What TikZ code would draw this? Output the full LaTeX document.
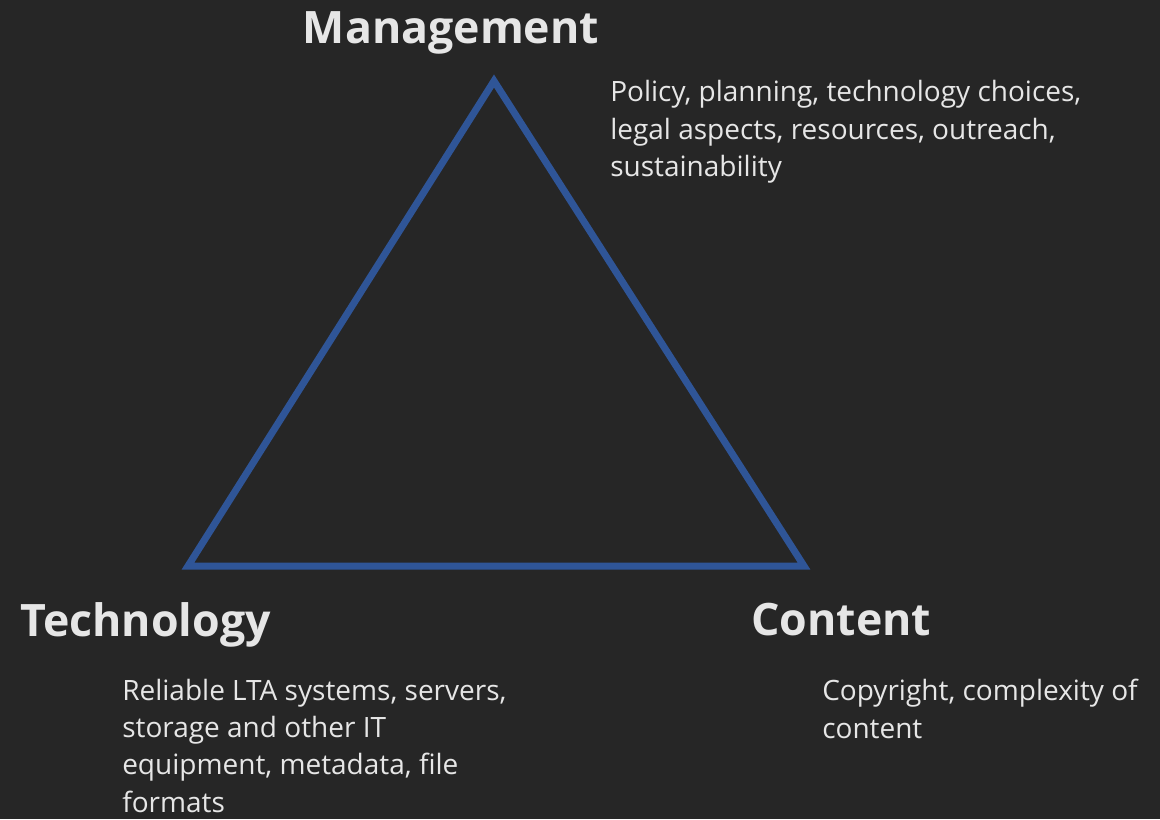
\documentclass[tikz,border=0pt]{standalone}
\usepackage{fontspec}
\setmainfont{Open Sans}
\definecolor{bg}{HTML}{262626}
\definecolor{tri}{HTML}{2F5597}
\definecolor{txt}{HTML}{E6E6E6}
\begin{document}
\begin{tikzpicture}[x=0.75pt,y=-0.75pt,
  head/.style={text=txt,font=\fontsize{33.5}{40}\selectfont\bfseries,inner sep=0pt},
  desc/.style={text=txt,font=\fontsize{21}{28}\selectfont,inner sep=0pt,align=left,anchor=base west}]
\fill[bg] (0,0) rectangle (1160,819);
\useasboundingbox (0,0) rectangle (1160,819);
\coordinate (top) at (494,81);
\coordinate (bl) at (188,566);
\coordinate (br) at (804,566);
\draw[tri,line width=5.25pt,line join=miter] (top) -- (bl) -- (br) -- cycle;
\node[head,anchor=base] (mgmt) at (451,43) {Management};
\node[head,anchor=base west] (tech) at (20,636) {Technology};
\node[head,anchor=base west] (cont) at (751,635) {Content};
% multi-line nodes: base anchor is at the last line's baseline
\node[desc] (mdesc) at (610,176.5) {Policy, planning, technology choices,\\legal aspects, resources, outreach,\\sustainability};
\node[desc] (tdesc) at (122,812) {Reliable LTA systems, servers,\\storage and other IT\\equipment, metadata, file\\formats};
\node[desc] (cdesc) at (822,738) {Copyright, complexity of\\content};
\end{tikzpicture}
\end{document}
